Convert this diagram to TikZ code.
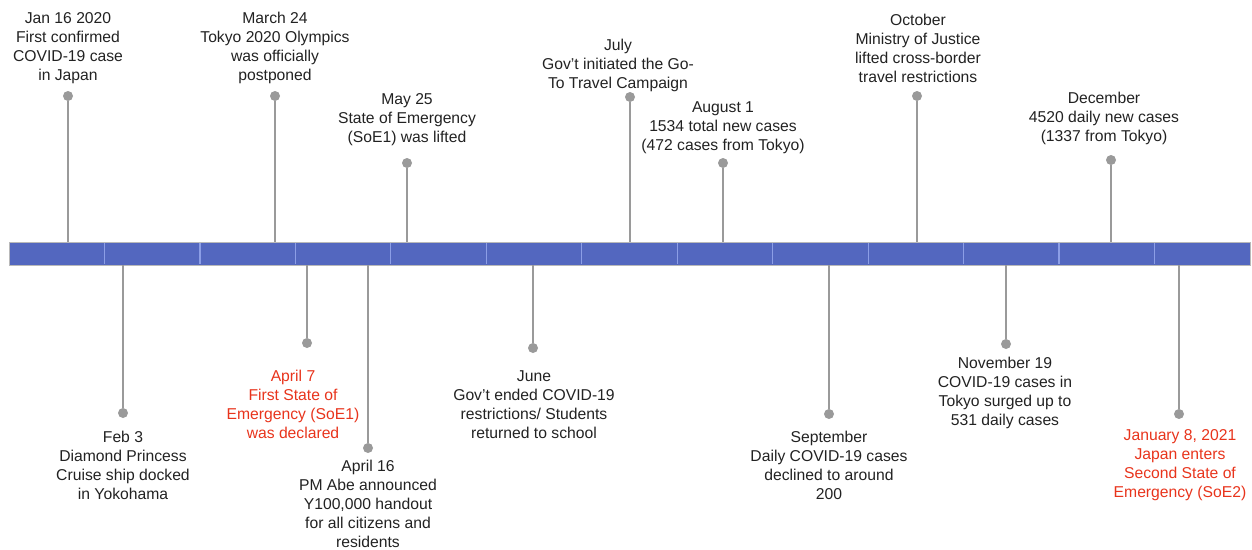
\documentclass[tikz,border=0pt]{standalone}
\usepackage{fontspec}
\setmainfont{Liberation Sans}
\definecolor{barblue}{HTML}{5367BF}
\definecolor{divblue}{HTML}{8C9EE6}
\definecolor{stemgray}{HTML}{9A9A9A}
\definecolor{evred}{HTML}{E8341C}
\definecolor{txt}{HTML}{222222}
\begin{document}
\begin{tikzpicture}[x=1pt,y=-1pt,
  dot/.style={circle,fill=stemgray,inner sep=0pt,minimum size=10pt},
  stem/.style={draw=stemgray,line width=2.2pt},
  lbl/.style={align=center,font=\fontsize{15.7}{19}\selectfont,inner sep=0pt,text=txt},
  redlbl/.style={lbl,text=evred}]
\useasboundingbox (0,0) rectangle (1252,549);
% bar
\fill[barblue] (9,242) rectangle (1250,265);
\draw[gray!55,line width=1pt] (9,242) rectangle (1250,265);
\foreach \i in {1,...,12}{
  \draw[divblue,line width=1.3pt] ({9+\i*95.46},243) -- ({9+\i*95.46},264);
}
% ---------- above ----------
\coordinate (ba1) at (68,242);
\node[dot] (da1) at (68,96) {};
\draw[stem] (da1) -- (ba1);
\node[lbl] (ta1) at (68,48) {Jan 16 2020\\First confirmed\\COVID-19 case\\in Japan};

\coordinate (ba2) at (275,242);
\node[dot] (da2) at (275,96) {};
\draw[stem] (da2) -- (ba2);
\node[lbl] (ta2) at (275,48) {March 24\\Tokyo 2020 Olympics\\was officially\\postponed};

\coordinate (ba3) at (407,242);
\node[dot] (da3) at (407,163) {};
\draw[stem] (da3) -- (ba3);
\node[lbl] (ta3) at (407,120) {May 25\\State of Emergency\\(SoE1) was lifted};

\coordinate (ba4) at (630,242);
\node[dot] (da4) at (630,97) {};
\draw[stem] (da4) -- (ba4);
\node[lbl] (ta4) at (618,65) {July\\Gov't initiated the Go-\\To Travel Campaign};

\coordinate (ba5) at (723,242);
\node[dot] (da5) at (723,163) {};
\draw[stem] (da5) -- (ba5);
\node[lbl] (ta5) at (723,128) {August 1\\1534 total new cases\\(472 cases from Tokyo)};

\coordinate (ba6) at (917,242);
\node[dot] (da6) at (917,96) {};
\draw[stem] (da6) -- (ba6);
\node[lbl] (ta6) at (918,48) {October\\Ministry of Justice\\lifted cross-border\\travel restrictions};

\coordinate (ba7) at (1111,242);
\node[dot] (da7) at (1111,160) {};
\draw[stem] (da7) -- (ba7);
\node[lbl] (ta7) at (1104,118.5) {December\\4520 daily new cases\\(1337 from Tokyo)};

% ---------- below ----------
\coordinate (bb1) at (123,265);
\node[dot] (db1) at (123,413) {};
\draw[stem] (bb1) -- (db1);
\node[lbl] (tb1) at (123,465.5) {Feb 3\\Diamond Princess\\Cruise ship docked\\in Yokohama};

\coordinate (bb2) at (307,265);
\node[dot] (db2) at (307,343) {};
\draw[stem] (bb2) -- (db2);
\node[redlbl] (tb2) at (293,404) {April 7\\First State of\\Emergency (SoE1)\\was declared};

\coordinate (bb3) at (368,265);
\node[dot] (db3) at (368,448) {};
\draw[stem] (bb3) -- (db3);
\node[lbl] (tb3) at (368,503.5) {April 16\\PM Abe announced\\Y100,000 handout\\for all citizens and\\residents};

\coordinate (bb4) at (533,265);
\node[dot] (db4) at (533,348) {};
\draw[stem] (bb4) -- (db4);
\node[lbl] (tb4) at (534,404.5) {June\\Gov't ended COVID-19\\restrictions/ Students\\returned to school};

\coordinate (bb5) at (829,265);
\node[dot] (db5) at (829,414) {};
\draw[stem] (bb5) -- (db5);
\node[lbl] (tb5) at (829,465) {September\\Daily COVID-19 cases\\declined to around\\200};

\coordinate (bb6) at (1006,265);
\node[dot] (db6) at (1006,344) {};
\draw[stem] (bb6) -- (db6);
\node[lbl] (tb6) at (1005,393) {November 19\\COVID-19 cases in\\Tokyo surged up to\\531 daily cases};

\coordinate (bb7) at (1179,265);
\node[dot] (db7) at (1179,414) {};
\draw[stem] (bb7) -- (db7);
\node[redlbl] (tb7) at (1180,465.5) {January 8, 2021\\Japan enters\\Second State of\\Emergency (SoE2)};
\end{tikzpicture}
\end{document}
